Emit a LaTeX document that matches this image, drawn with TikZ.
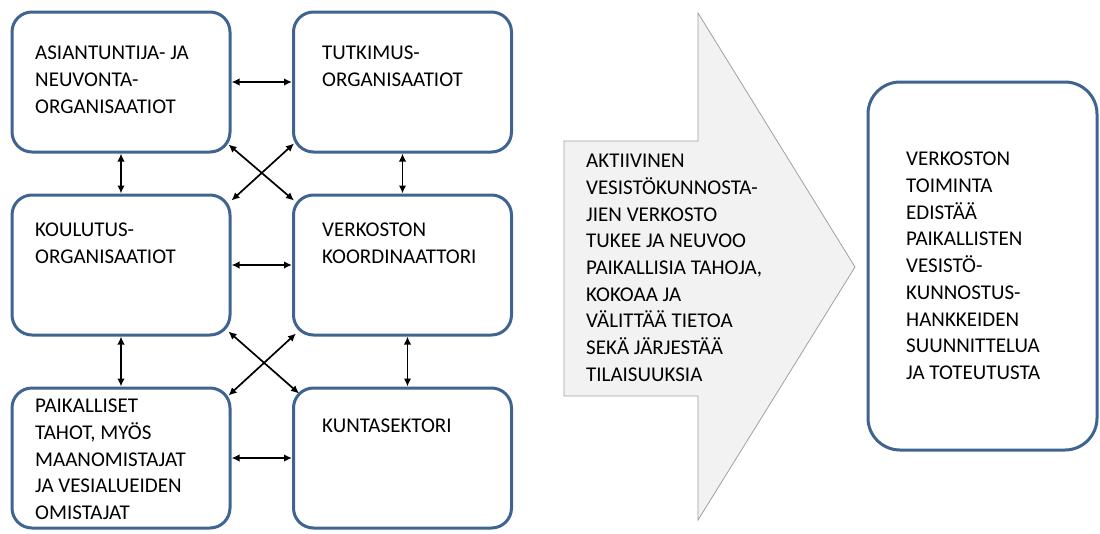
\documentclass[tikz,border=0pt]{standalone}
\usepackage{fontspec}
\setmainfont{Carlito}
\usepackage{tikz}
\usetikzlibrary{arrows.meta}

\definecolor{boxblue}{RGB}{64,100,145}
\definecolor{arrowfill}{RGB}{242,242,242}
\definecolor{arrowline}{RGB}{160,160,160}

\tikzset{
	orgbox/.style={draw=boxblue, line width=3pt, rounded corners=20pt, fill=white,
		minimum width=218pt, minimum height=140pt, inner sep=0pt},
	orgtext/.style={anchor=north west, inner sep=0pt, align=left,
		font=\fontsize{21}{26.7}\selectfont},
	link/.style={{Latex[length=8pt,width=7.5pt]}-{Latex[length=8pt,width=7.5pt]}, line width=1.7pt}
}

\begin{document}
\begin{tikzpicture}[x=1pt,y=-1pt]
			\useasboundingbox (0,0) rectangle (1100,533);
			
			%Shape: Rounded Rect [id:asi]
			\node [orgbox] (asi) at (121,82) {};
			%Shape: Rounded Rect [id:tut]
			\node [orgbox] (tut) at (402.5,82) {};
			%Shape: Rounded Rect [id:kou]
			\node [orgbox] (kou) at (121,265) {};
			%Shape: Rounded Rect [id:ver]
			\node [orgbox] (ver) at (402.5,265) {};
			%Shape: Rounded Rect [id:pai]
			\node [orgbox] (pai) at (121,458) {};
			%Shape: Rounded Rect [id:kun]
			\node [orgbox] (kun) at (402.5,458) {};
			
			% Text Node
			\node [orgtext] (asitxt) at (35,46) {ASIANTUNTIJA- JA\\NEUVONTA-\\ORGANISAATIOT};
			% Text Node
			\node [orgtext] (tuttxt) at (322,46) {TUTKIMUS-\\ORGANISAATIOT};
			% Text Node
			\node [orgtext] (koutxt) at (35,223) {KOULUTUS-\\ORGANISAATIOT};
			% Text Node
			\node [orgtext] (vertxt) at (322,223) {VERKOSTON\\KOORDINAATTORI};
			% Text Node
			\node [orgtext] (paitxt) at (35,399) {PAIKALLISET\\TAHOT, MYÖS\\MAANOMISTAJAT\\JA VESIALUEIDEN\\OMISTAJAT};
			% Text Node
			\node [orgtext] (kuntxt) at (322,419) {KUNTASEKTORI};
			
			%Straight Lines
			\draw [link] (asi) -- (tut);
			\draw [link] (kou) -- (ver);
			\draw [link] (pai) -- (kun);
			\draw [link] (asi) -- (kou);
			\draw [link] (kou) -- (pai);
			\draw [link] (tut) -- (ver);
			\draw [link] ([xshift=5pt]ver.south) -- ([xshift=5pt]kun.north);
			%Crossing Lines
			\draw [link] ([shift={(-3,-9)}]asi.south east) -- ([shift={(2,7)}]ver.north west);
			\draw [link] ([shift={(2,-10)}]tut.south west) -- ([shift={(0,7)}]kou.north east);
			\draw [link] ([shift={(-3,-5)}]kou.south east) -- ([shift={(7,7)}]kun.north west);
			\draw [link] ([shift={(4,-3)}]ver.south west) -- ([shift={(-3,9)}]pai.north east);
			
			%Shape: Right Arrow [id:big]
			\draw [draw=arrowline, fill=arrowfill, line width=0.8pt] (564,141) -- (698,141) -- (698,13) -- (855,267) -- (698,520) -- (698,396) -- (564,396) -- cycle;
			% Text Node
			\node [orgtext] (bigtxt) at (586,154) {AKTIIVINEN\\VESISTÖKUNNOSTA-\\JIEN VERKOSTO\\TUKEE JA NEUVOO\\PAIKALLISIA TAHOJA,\\KOKOAA JA\\VÄLITTÄÄ TIETOA\\SEKÄ JÄRJESTÄÄ\\TILAISUUKSIA};
			
			%Shape: Rounded Rect [id:res]
			\node [orgbox, rounded corners=32pt, minimum width=229pt, minimum height=368pt] (res) at (982.5,266) {};
			% Text Node
			\node [orgtext] (restxt) at (906,152) {VERKOSTON\\TOIMINTA\\EDISTÄÄ\\PAIKALLISTEN\\VESISTÖ-\\KUNNOSTUS-\\HANKKEIDEN\\SUUNNITTELUA\\JA TOTEUTUSTA};
			
		\end{tikzpicture}
\end{document}
